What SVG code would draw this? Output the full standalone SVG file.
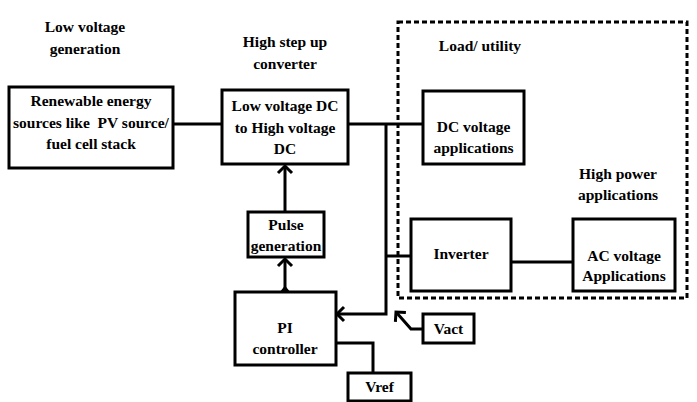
<svg xmlns="http://www.w3.org/2000/svg" width="697" height="402" viewBox="0 0 697 402">
<style>
.box{fill:#fff;stroke:#000;stroke-width:3}
.t{font-family:'Liberation Serif','Times New Roman',Tinos,'DejaVu Serif',serif;font-weight:700;font-size:15.5px;fill:#000;text-anchor:middle}
.c{fill:none;stroke:#000;stroke-width:3}
</style>
<defs>
<marker id="arr" viewBox="-10 -10 20 20" markerWidth="20" markerHeight="20" refX="0" refY="0" markerUnits="userSpaceOnUse" orient="auto">
<path d="M-7,-7 L0,0 L-7,7" fill="none" stroke="#000" stroke-width="3"/>
</marker>
</defs>
<rect width="697" height="402" fill="#fff"/>
<g id="labels">
<text class="t" x="85" y="32">Low voltage</text>
<text class="t" x="85" y="54">generation</text>
<text class="t" x="285" y="47">High step up</text>
<text class="t" x="285" y="69">converter</text>
<text class="t" x="480" y="51">Load/ utility</text>
<text class="t" x="618" y="179">High power</text>
<text class="t" x="618" y="200">applications</text>
</g>
<g id="load-region">
<rect x="398" y="22" width="289" height="276" fill="none" stroke="#000" stroke-width="3" stroke-dasharray="5,3"/>
</g>
<g id="connectors">
<line class="c" x1="173" y1="124" x2="222" y2="124"/>
<line class="c" x1="348" y1="124" x2="423" y2="124"/>
<polyline class="c" points="386,124 386,314 337,314" marker-end="url(#arr)"/>
<line class="c" x1="386" y1="256" x2="411" y2="256"/>
<line class="c" x1="511" y1="262" x2="573" y2="262"/>
<line class="c" x1="285" y1="212" x2="285" y2="166" marker-end="url(#arr)"/>
<line class="c" x1="285" y1="291" x2="285" y2="259" marker-end="url(#arr)"/>
<path class="c" d="M281,293 L285,288 L289,293"/>
<polyline class="c" points="423,329 411,329 396,312" marker-end="url(#arr)"/>
<polyline class="c" points="336,343 373,343 373,373"/>
</g>
<g id="renewable">
<rect class="box" x="9" y="87" width="164" height="81"/>
<text class="t" x="91" y="106">Renewable energy</text>
<text class="t" x="91" y="128" style="white-space:pre">sources like  PV source/</text>
<text class="t" x="91" y="149">fuel cell stack</text>
</g>
<g id="converter">
<rect class="box" x="222" y="90" width="126" height="74"/>
<text class="t" x="285" y="111">Low voltage DC</text>
<text class="t" x="285" y="133">to High voltage</text>
<text class="t" x="285" y="154">DC</text>
</g>
<g id="dc-apps">
<rect class="box" x="423" y="91" width="101" height="73"/>
<text class="t" x="473.5" y="132">DC voltage</text>
<text class="t" x="473.5" y="153">applications</text>
</g>
<g id="pulse">
<rect class="box" x="248" y="212" width="76" height="45"/>
<text class="t" x="286" y="230">Pulse</text>
<text class="t" x="286" y="251">generation</text>
</g>
<g id="inverter">
<rect class="box" x="411" y="219" width="100" height="72"/>
<text class="t" x="461" y="259">Inverter</text>
</g>
<g id="ac-apps">
<rect class="box" x="573" y="219" width="102" height="72"/>
<text class="t" x="624" y="261">AC voltage</text>
<text class="t" x="624" y="281">Applications</text>
</g>
<g id="pi">
<rect class="box" x="235" y="292" width="101" height="73"/>
<text class="t" x="285" y="333">PI</text>
<text class="t" x="285" y="354">controller</text>
</g>
<g id="vact">
<rect class="box" x="423" y="314" width="51" height="29"/>
<text class="t" x="448.5" y="334">Vact</text>
</g>
<g id="vref">
<rect class="box" x="348" y="373" width="63" height="28"/>
<text class="t" x="379.5" y="392">Vref</text>
</g>
</svg>
